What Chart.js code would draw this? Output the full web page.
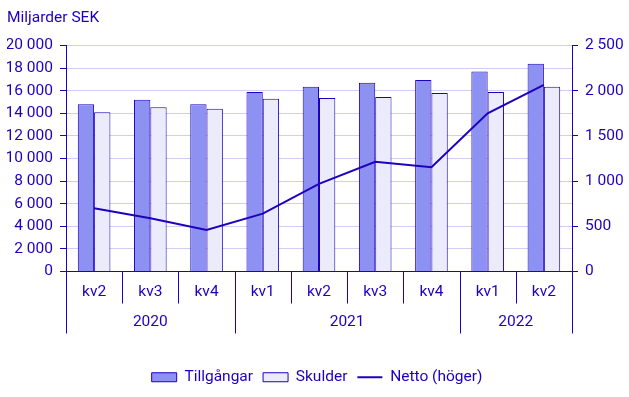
<!DOCTYPE html>
<html>
<head>
<meta charset="utf-8">
<script src="https://cdn.jsdelivr.net/npm/chart.js@4.4.0/dist/chart.umd.min.js"></script>
<style>
  html, body { margin: 0; padding: 0; background: #fff; }
  #wrap { width: 629px; height: 397px; }
</style>
</head>
<body>
<div id="wrap"><canvas id="myChart" width="629" height="397"></canvas></div>
<script>
const kvartal = ['kv2', 'kv3', 'kv4', 'kv1', 'kv2', 'kv3', 'kv4', 'kv1', 'kv2'];
const ar = ['2020', '2020', '2020', '2021', '2021', '2021', '2021', '2022', '2022'];
const tillgangar = [14800, 15200, 14800, 15900, 16350, 16700, 16950, 17700, 18400];
const skulder = [14100, 14550, 14400, 15300, 15350, 15450, 15800, 15900, 16350];
const netto = [700, 590, 460, 640, 970, 1215, 1155, 1750, 2065];

const morkBla = '#1e00be';
const textFarg = '#1e00be';
const gridFarg = '#d2cdf5';
const typsnitt = 'Roboto, "Noto Sans", sans-serif';
const storlek = 15.5;

function mellanslag(v) {
    return String(v).replace(/\B(?=(\d{3})+(?!\d))/g, ' ');
}

// egen x-axel med kvartal och år
const xAxelPlugin = {
    id: 'xAxel',
    afterDraw(chart) {
        const ctx = chart.ctx;
        const x = chart.scales.x;
        const botten = chart.chartArea.bottom;
        const n = kvartal.length;
        const halv = (x.getPixelForValue(1) - x.getPixelForValue(0)) / 2;
        ctx.save();
        ctx.strokeStyle = morkBla;
        ctx.lineWidth = 1;
        const granser = [];
        for (let i = 0; i <= n; i++) {
            const px = i < n ? x.getPixelForValue(i) - halv : x.getPixelForValue(n - 1) + halv;
            granser.push(px);
            const arsgrans = i === 0 || i === n || ar[i] !== ar[i - 1];
            const len = arsgrans ? 62 : 32;
            const xx = Math.round(px) + 0.5;
            ctx.beginPath();
            ctx.moveTo(xx, botten);
            ctx.lineTo(xx, botten + len);
            ctx.stroke();
        }
        ctx.fillStyle = textFarg;
        ctx.font = storlek + 'px ' + typsnitt;
        ctx.textAlign = 'center';
        ctx.textBaseline = 'middle';
        for (let i = 0; i < n; i++) {
            ctx.fillText(kvartal[i], x.getPixelForValue(i), botten + 21);
        }
        let start = 0;
        for (let i = 1; i <= n; i++) {
            if (i === n || ar[i] !== ar[i - 1]) {
                ctx.fillText(ar[start], (granser[start] + granser[i]) / 2, botten + 51);
                start = i;
            }
        }
        ctx.restore();
    }
};

new Chart(document.getElementById('myChart').getContext('2d'), {
    data: {
        labels: kvartal.map((k, i) => k + ' ' + ar[i]),
        datasets: [{
            type: 'line',
            label: 'Netto (höger)',
            data: netto,
            yAxisID: 'y1',
            borderColor: morkBla,
            backgroundColor: morkBla,
            borderWidth: 2,
            pointRadius: 0,
            pointStyle: 'line',
            tension: 0,
            order: 0
        }, {
            type: 'bar',
            label: 'Tillgångar',
            data: tillgangar,
            yAxisID: 'y',
            backgroundColor: '#8d91f2',
            borderColor: morkBla,
            borderWidth: 1,
            pointStyle: 'rect',
            barPercentage: 1,
            categoryPercentage: 0.58,
            order: 1
        }, {
            type: 'bar',
            label: 'Skulder',
            data: skulder,
            yAxisID: 'y',
            backgroundColor: '#ebebfc',
            borderColor: morkBla,
            borderWidth: 1,
            pointStyle: 'rect',
            barPercentage: 1,
            categoryPercentage: 0.58,
            order: 1
        }]
    },
    options: {
        responsive: false,
        animation: false,
        layout: { padding: { left: 7, right: 2, top: 0, bottom: 2 } },
        plugins: {
            title: {
                display: true,
                text: 'Miljarder SEK',
                align: 'start',
                color: textFarg,
                font: { family: typsnitt, size: storlek, weight: 'normal' },
                padding: { top: 9, bottom: 18 }
            },
            legend: {
                position: 'bottom',
                labels: {
                    usePointStyle: true,
                    pointStyleWidth: 25,
                    boxHeight: 9,
                    color: textFarg,
                    font: { family: typsnitt, size: storlek },
                    padding: 10,
                    sort: (a, b) => {
                        const ordning = ['Tillgångar', 'Skulder', 'Netto (höger)'];
                        return ordning.indexOf(a.text) - ordning.indexOf(b.text);
                    }
                }
            },
            tooltip: { enabled: false }
        },
        scales: {
            x: {
                ticks: { display: false },
                grid: { display: false },
                border: { display: true, color: morkBla },
                afterFit: (s) => { s.height = 88; }
            },
            y: {
                position: 'left',
                min: 0,
                max: 20000,
                ticks: {
                    stepSize: 2000,
                    color: textFarg,
                    font: { family: typsnitt, size: storlek },
                    padding: 7,
                    callback: (v) => mellanslag(v)
                },
                grid: { color: gridFarg, tickColor: morkBla, tickLength: 6 },
                border: { color: morkBla },
                afterFit: (s) => { s.width = 59; }
            },
            y1: {
                position: 'right',
                min: 0,
                max: 2500,
                ticks: {
                    stepSize: 500,
                    color: textFarg,
                    font: { family: typsnitt, size: storlek },
                    padding: 7,
                    callback: (v) => mellanslag(v)
                },
                grid: { drawOnChartArea: false, tickColor: morkBla, tickLength: 6 },
                border: { color: morkBla },
                afterFit: (s) => { s.width = 55; }
            }
        }
    },
    plugins: [xAxelPlugin]
});
</script>
</body>
</html>
